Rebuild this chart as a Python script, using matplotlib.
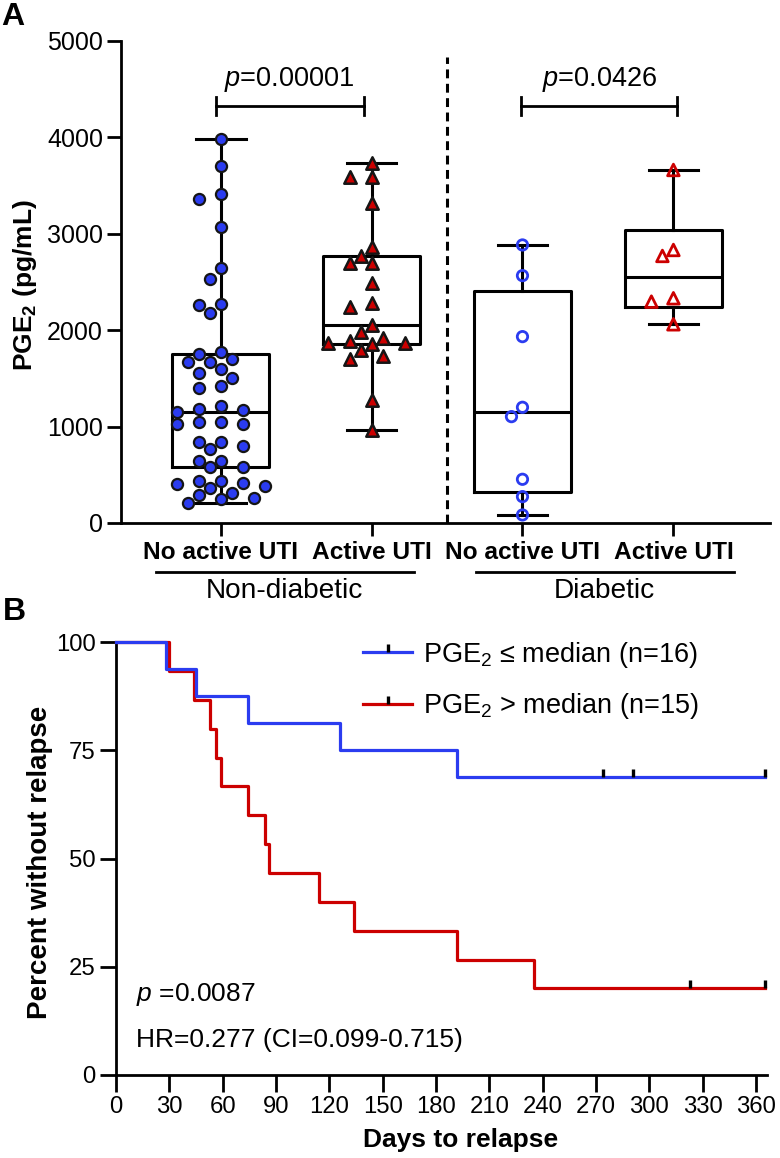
import numpy as np
import matplotlib
matplotlib.use('Agg')
import matplotlib.pyplot as plt
import matplotlib.transforms as mtransforms
from matplotlib import font_manager
from matplotlib.path import Path
from matplotlib.lines import Line2D

# ---- data: panel A (PGE2, pg/mL) ----
group_labels = ['No active UTI', 'Active UTI', 'No active UTI', 'Active UTI']
cohort_labels = ['Non-diabetic', 'Diabetic']

nondiab_no_uti = [3983, 3703, 3413, 3364, 3070, 2648, 2528, 2275, 2261, 2181,
                  1777, 1755, 1705, 1667, 1667, 1594, 1559, 1507, 1421, 1397,
                  1217, 1183, 1172, 1155, 1045, 1045, 1024, 1024, 843, 843,
                  802, 768, 643, 643, 584, 578, 436, 436, 418, 401, 387, 366,
                  314, 290, 262, 246, 204]
nondiab_uti = [3734, 3593, 3586, 3316, 2866, 2770, 2694, 2694, 2487, 2279,
               2244, 2054, 1978, 1923, 1888, 1866, 1862, 1858, 1795, 1732,
               1698, 1276, 965]
diab_no_uti = [2884, 2566, 1933, 1200, 1103, 453, 273, 83]
diab_uti = [3662, 2832, 2770, 2331, 2296, 2061]

p_values_a = ['0.00001', '0.0426']

# ---- data: panel B (days to relapse) ----
low_events = [28, 45, 74, 126, 192]
low_censored = [274, 291] + [365] * 9
high_events = [30, 44, 53, 56, 59, 74, 84, 86, 114, 134, 192, 235]
high_censored = [323, 365, 365]
day_ticks = list(range(0, 361, 30))
pct_ticks = [0, 25, 50, 75, 100]

BLUE = '#2b3cf0'
RED = '#cc0000'
EDGE = '#151515'

# condensed font if there is one, otherwise plain Liberation Sans a bit smaller
names = {f.name for f in font_manager.fontManager.ttflist}
NARROW, ns = 'Liberation Sans', 0.84
for cand in ['Liberation Sans Narrow', 'Arial Narrow']:
    if cand in names:
        NARROW, ns = cand, 1.0
        break

plt.rcParams['font.family'] = ['Liberation Sans', 'DejaVu Sans']
plt.rcParams['mathtext.fontset'] = 'custom'
plt.rcParams['mathtext.rm'] = 'Liberation Sans'
plt.rcParams['mathtext.it'] = 'Liberation Sans:italic'
plt.rcParams['mathtext.bf'] = 'Liberation Sans:bold'

fig = plt.figure(figsize=(7.8, 11.58), dpi=100)
axA = fig.add_axes([0.1551, 0.5484, 0.8321, 0.4162])
axB = fig.add_axes([0.1487, 0.0717, 0.8342, 0.3737])

for ax in (axA, axB):
    ax.spines['top'].set_visible(False)
    ax.spines['right'].set_visible(False)
    ax.spines['left'].set_linewidth(2)
    ax.spines['bottom'].set_linewidth(2)


# ---------------- Panel A ----------------
axA.set_xlim(-0.66, 3.64)
axA.set_ylim(0, 5000)


def swarm(ax, x0, values, diam=12.5, step=11.0):
    # simple beeswarm in pixel space
    pts = ax.transData.transform(np.column_stack([np.full(len(values), x0), values]))
    ys = pts[:, 1]
    unit = ax.transData.transform([[1, 0]])[0, 0] - ax.transData.transform([[0, 0]])[0, 0]
    placed = []
    offs = np.zeros(len(values))
    ks = [0] + [s * k for k in range(1, 12) for s in (-1, 1)]
    for i in np.argsort(-ys):
        for k in ks:
            xp = k * step
            if all((xp - px) ** 2 + (ys[i] - py) ** 2 >= diam ** 2 for px, py in placed):
                break
        placed.append((xp, ys[i]))
        offs[i] = xp
    return x0 + offs / unit


datasets = [nondiab_no_uti, nondiab_uti, diab_no_uti, diab_uti]
stats = []
for vals in datasets:
    v = np.array(vals, dtype=float)
    q1, med, q3 = np.percentile(v, [25, 50, 75], method='weibull')
    stats.append(dict(med=med, q1=q1, q3=q3, whislo=v.min(), whishi=v.max(), fliers=[]))

lp = dict(color='black', linewidth=2.2)
axA.bxp(stats, positions=[0, 1, 2, 3], widths=0.64, capwidths=0.33, showfliers=False,
        boxprops=lp, whiskerprops=lp, capprops=lp, medianprops=lp, manage_ticks=False)

styles = [
    dict(marker='o', s=64, facecolors=BLUE, edgecolors=EDGE, linewidths=1.6),
    dict(marker='^', s=80, facecolors=RED, edgecolors=EDGE, linewidths=1.8),
    dict(marker='o', s=56, facecolors='none', edgecolors=BLUE, linewidths=2.0),
    dict(marker='^', s=70, facecolors='none', edgecolors=RED, linewidths=2.0),
]
for pos, vals, st in zip([0, 1, 2, 3], datasets, styles):
    xs = swarm(axA, pos, vals)
    axA.scatter(xs, vals, zorder=4, clip_on=False, **st)

# significance brackets
for (x1, x2), p in zip([(-0.033, 0.947), (1.993, 3.026)], p_values_a):
    axA.plot([x1, x2], [4326, 4326], color='black', lw=2)
    axA.plot([x1, x1], [4236, 4416], color='black', lw=2)
    axA.plot([x2, x2], [4236, 4416], color='black', lw=2)
    axA.text((x1 + x2) / 2, 4600, r'$p$=' + p, ha='center', va='center', fontsize=19.5)

axA.plot([1.5, 1.5], [0, 4830], color='black', lw=2.2, ls=(0, (2.9, 1.8)))

axA.set_yticks(range(0, 5001, 1000))
axA.tick_params(axis='y', direction='out', length=10, width=2, pad=3, labelsize=18)
axA.set_xticks([0, 1, 2, 3])
axA.set_xticklabels(group_labels, fontfamily=NARROW, fontweight='bold', fontsize=21 * ns)
axA.tick_params(axis='x', direction='out', length=9, width=2, pad=4)

trA = mtransforms.blended_transform_factory(axA.transData, axA.transAxes)
for (x1, x2), lab in zip([(-0.43, 1.28), (1.69, 3.40)], cohort_labels):
    axA.plot([x1, x2], [-0.102, -0.102], color='black', lw=2, transform=trA, clip_on=False)
    axA.text((x1 + x2) / 2, -0.142, lab, transform=trA, ha='center', va='center',
             fontfamily=NARROW, fontsize=24 * ns)

fig.text(25 / 780, 1 - 285 / 1158, r'PGE$_\mathbf{2}$ (pg/mL)', rotation=90,
         ha='center', va='center', fontsize=19, fontweight='bold')


# ---------------- Panel B ----------------
axB.set_xlim(0, 366)
axB.set_ylim(0, 100)


def km_curve(events, censored):
    n = len(events) + len(censored)
    xs, ys, s = [0], [100.0], 1.0
    for t in sorted(set(events)):
        at_risk = n - sum(e < t for e in events) - sum(c < t for c in censored)
        s *= 1 - events.count(t) / at_risk
        xs.append(t)
        ys.append(100 * s)
    xs.append(365)
    ys.append(ys[-1])
    return np.array(xs, float), np.array(ys)


# censor mark: short vertical tick going up from the curve
tick_marker = Path([(0, 0), (0, 1)], [Path.MOVETO, Path.LINETO])

for ev, ce, col, z in [(high_events, high_censored, RED, 3), (low_events, low_censored, BLUE, 4)]:
    xs, ys = km_curve(ev, ce)
    axB.step(xs, ys, where='post', color=col, lw=2.3, zorder=z, clip_on=False)
    ct = np.array(sorted(set(ce)), float)
    cy = ys[np.searchsorted(xs, ct, side='right') - 1]
    axB.plot(ct, cy, ls='none', marker=tick_marker, ms=11, mew=2.4, color='black',
             zorder=z + 2, clip_on=False)

handles = [
    Line2D([], [], color=BLUE, lw=2.3, marker=tick_marker, ms=11, mew=2.4, mec='black'),
    Line2D([], [], color=RED, lw=2.3, marker=tick_marker, ms=11, mew=2.4, mec='black'),
]
labels = [r'PGE$_2$ ≤ median (n=16)', r'PGE$_2$ > median (n=15)']
axB.legend(handles, labels, loc='upper left', bbox_to_anchor=(0.380, 1.006),
           frameon=False, fontsize=19.5, handlelength=1.8, handletextpad=0.42,
           labelspacing=0.8, borderpad=0, borderaxespad=0, numpoints=1)

axB.text(11.25, 18.5, r'$p$ =0.0087', va='center', ha='left', fontsize=19)
axB.text(11.25, 8.1, 'HR=0.277 (CI=0.099-0.715)', va='center', ha='left', fontsize=19)

axB.set_xticks(day_ticks)
axB.set_yticks(pct_ticks)
axB.tick_params(axis='x', direction='out', length=12, width=2, pad=3.5)
axB.tick_params(axis='y', direction='out', length=11.5, width=2, pad=3)
for lab in axB.get_xticklabels() + axB.get_yticklabels():
    lab.set_fontfamily(NARROW)
    lab.set_fontsize(20.5 * ns)

axB.set_xlabel('Days to relapse', fontsize=19, fontweight='bold')
axB.xaxis.set_label_coords(0.53, -0.122)
fig.text(40 / 780, 1 - 862 / 1158, 'Percent without relapse', rotation=90,
         ha='center', va='center', fontsize=20, fontweight='bold')

fig.text(13 / 780, 1 - 17 / 1158, 'A', ha='center', va='center', fontsize=23, fontweight='bold')
fig.text(14 / 780, 1 - 612 / 1158, 'B', ha='center', va='center', fontsize=23, fontweight='bold')

fig.savefig('out.png', dpi=100)
